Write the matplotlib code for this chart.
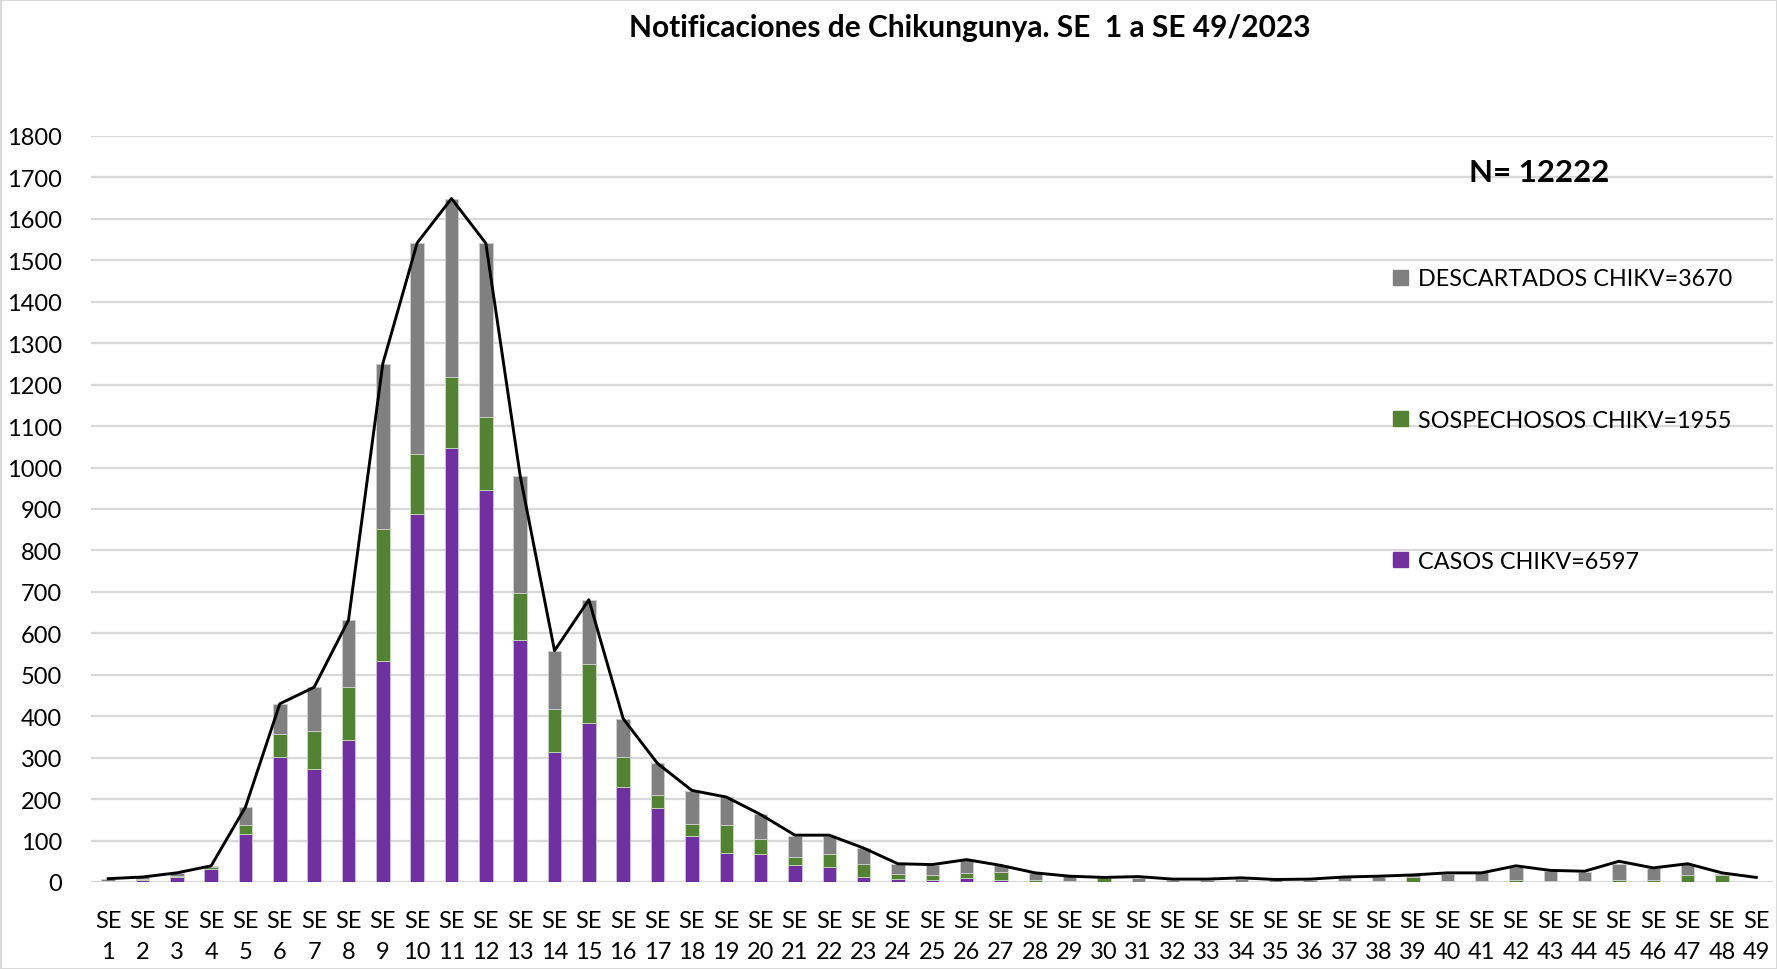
import matplotlib
matplotlib.use("Agg")
import matplotlib.pyplot as plt
from matplotlib.patches import Patch
import numpy as np

plt.rcParams["font.family"] = ["Lato", "DejaVu Sans"]

weeks = [f"SE\n{i}" for i in range(1, 50)]
casos = [2, 5, 13, 32, 115, 302, 273, 343, 534, 887, 1048, 945, 583, 313, 384, 229,
         178, 112, 70, 67, 41, 36, 11, 7, 5, 9, 6, 0, 0, 0, 0, 0, 0, 0, 0, 0,
         0, 0, 0, 0, 0, 0, 0, 0, 0, 0, 0, 0, 0]
sospechosos = [0, 2, 2, 3, 23, 55, 91, 128, 317, 146, 170, 177, 114, 104, 141, 73,
               32, 27, 67, 37, 19, 31, 32, 12, 11, 12, 17, 6, 2, 9, 0, 0, 0, 0, 0, 0,
               3, 3, 12, 3, 3, 6, 3, 3, 6, 6, 16, 17, 0]
descartados = [6, 5, 7, 4, 43, 73, 106, 161, 400, 509, 431, 419, 283, 141, 156, 92,
               76, 81, 68, 59, 52, 45, 38, 25, 26, 33, 17, 15, 12, 2, 9, 5, 5, 8, 4, 5,
               8, 10, 5, 17, 20, 29, 24, 22, 38, 28, 28, 3, 0]
total = [8, 12, 22, 39, 181, 430, 470, 632, 1251, 1542, 1649, 1541, 980, 558, 681, 394,
         286, 221, 205, 163, 113, 113, 82, 44, 42, 54, 40, 22, 14, 11, 13, 7, 7, 10, 6, 7,
         12, 14, 17, 22, 22, 39, 28, 26, 50, 34, 44, 22, 11]

labels = ["CASOS CHIKV=6597", "SOSPECHOSOS CHIKV=1955", "DESCARTADOS CHIKV=3670"]
colors = ["#7030A0", "#548235", "#808080"]

fig = plt.figure(figsize=(17.77, 9.70), dpi=100)
fig.patch.set_edgecolor("#d9d9d9")
fig.patch.set_linewidth(2)
ax = fig.add_axes([0.0512, 0.0897, 0.9468, 0.7691])

x = np.arange(len(weeks))
c = np.array(casos)
s = np.array(sospechosos)
d = np.array(descartados)
ax.bar(x, c, 0.39, color=colors[0], edgecolor="#d0c0e0", linewidth=0.6, zorder=2)
ax.bar(x, s, 0.39, bottom=c, color=colors[1], edgecolor="#c8dcb8", linewidth=0.6, zorder=2)
ax.bar(x, d, 0.39, bottom=c + s, color=colors[2], edgecolor="#d0d0d0", linewidth=0.6, zorder=2)
ax.plot(x, total, color="black", linewidth=2.1, zorder=3)

ax.set_xlim(-0.5, len(weeks) - 0.5)
ax.set_ylim(0, 1800)
ax.set_yticks(range(0, 1801, 100))
ax.set_xticks(x)
ax.set_xticklabels(weeks, linespacing=1.62)
ax.tick_params(axis="both", length=0, labelsize=17)
ax.tick_params(axis="y", pad=21)
ax.tick_params(axis="x", pad=20)
ax.grid(axis="y", color="#d9d9d9", linewidth=1.6, zorder=0)
ax.set_axisbelow(True)
for sp in ax.spines.values():
    sp.set_visible(False)

fig.suptitle("Notificaciones de Chikungunya. SE  1 a SE 49/2023", fontsize=21.5,
             fontweight="bold", x=0.546, y=0.986, va="top")
ax.text(0.861, 0.952, "N= 12222", transform=ax.transAxes, fontsize=22.5,
        fontweight="bold", ha="center", va="center")

handles = [Patch(color=colors[i]) for i in (2, 1, 0)]
ax.legend(handles, [labels[i] for i in (2, 1, 0)], loc="upper left",
          bbox_to_anchor=(0.767, 0.838), frameon=False, fontsize=16.8,
          handlelength=0.65, handleheight=0.65, handletextpad=0.4,
          labelspacing=5.15, borderpad=0)

fig.savefig("out.png", dpi=100)
